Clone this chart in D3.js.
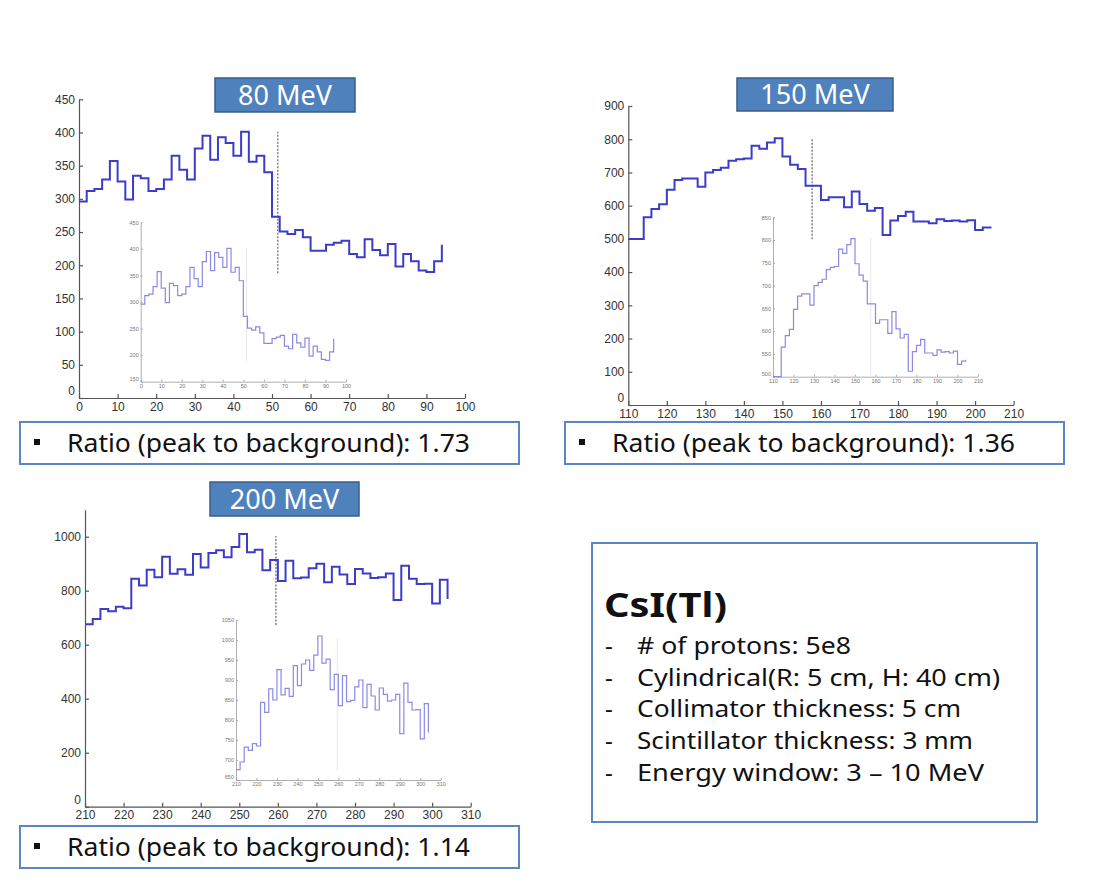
<!DOCTYPE html>
<html><head><meta charset="utf-8">
<script src="https://cdn.jsdelivr.net/npm/d3@7"></script>
<style>body{margin:0;background:#fff}svg{display:block}</style>
</head><body>
<svg id="c" width="1102" height="884"></svg>
<script>
// ---------- DATA ----------
const binWidth = 2;
const binStart80 = 0, binStart150 = 110, binStart200 = 210;
const counts80 = [296,312,315,329,357,326,299,335,331,312,315,329,365,344,329,376,395,359,393,384,365,401,356,365,340,273,251,247,253,242,222,222,231,234,237,217,212,239,223,215,232,198,217,206,192,190,206,231];
const counts150 = [500,500,565,590,604,648,677,682,682,657,700,707,714,735,740,742,780,771,790,803,748,723,710,660,660,617,625,625,595,643,605,585,593,512,555,569,582,552,552,547,559,554,555,552,556,527,534,537];
const counts200 = [676,695,732,724,741,735,844,819,878,850,926,863,879,859,936,886,940,950,924,962,1010,942,952,876,914,836,911,846,849,883,900,831,889,860,825,880,864,847,850,864,766,892,844,825,826,753,841,769];
// peak-window marker: [energy, lower count, upper count]
const marker80 = [51.5, 188, 401];
const marker150 = [157.7, 499, 804];
const marker200 = [259.5, 673, 1003];
const xTicks80 = [0,10,20,30,40,50,60,70,80,90,100];
const yTicks80 = [0,50,100,150,200,250,300,350,400,450];
const xTicks150 = [110,120,130,140,150,160,170,180,190,200,210];
const yTicks150 = [0,100,200,300,400,500,600,700,800,900];
const xTicks200 = [210,220,230,240,250,260,270,280,290,300,310];
const yTicks200 = [0,200,400,600,800,1000];
const insetYTicks80 = [150,200,250,300,350,400,450];
const insetYTicks150 = [500,550,600,650,700,750,800,850];
const insetYTicks200 = [650,700,750,800,850,900,950,1000,1050];
const titles = ["80 MeV","150 MeV","200 MeV"];
const ratioLabel = "Ratio (peak to background): ";
const ratios = ["1.73","1.36","1.14"];
const infoTitle = "CsI(Tl)";
const infoLines = ["# of protons: 5e8","Cylindrical(R: 5 cm, H: 40 cm)","Collimator thickness: 5 cm","Scintillator thickness: 3 mm","Energy window: 3 \u2013 10 MeV"];

// ---------- LAYOUT ----------
const svg = d3.select("#c");
const FONT = "'Noto Sans', 'Open Sans', sans-serif";
const TICKFONT = "'Liberation Sans', Arial, sans-serif";
const infoWidths = [214, 363, 324, 336, 347];

const panels = [
  { counts: counts80, start: binStart80, marker: marker80, xTicks: xTicks80, yTicks: yTicks80, iyTicks: insetYTicks80,
    main: {x:[79,465], y:[398,99.3], xd:[0,100], yd:[0,450]},
    inset: {x:[140.7,346], y:[381.7,222.3], xd:[0,100], yd:[150,450]},
    title: {x:215, y:78, w:140, h:34, text: titles[0]},
    ratio: {x:20, y:422, w:499, h:42, text: ratios[0]} },
  { counts: counts150, start: binStart150, marker: marker150, xTicks: xTicks150, yTicks: yTicks150, iyTicks: insetYTicks150,
    main: {x:[628.3,1013.6], y:[405,106], xd:[110,210], yd:[0,900]},
    inset: {x:[773,978], y:[376.7,217.3], xd:[110,210], yd:[500,850]},
    title: {x:737, y:78, w:156, h:33, text: titles[1]},
    ratio: {x:565, y:422, w:499, h:42, text: ratios[1]} },
  { counts: counts200, start: binStart200, marker: marker200, xTicks: xTicks200, yTicks: yTicks200, iyTicks: insetYTicks200,
    main: {x:[85,470.7], y:[806.7,509.7], xd:[210,310], yd:[0,1100]},
    inset: {x:[236,440.7], y:[780,620], xd:[210,310], yd:[650,1050]},
    title: {x:210, y:482, w:149, h:34, text: titles[2]},
    ratio: {x:20, y:826, w:499, h:42, text: ratios[2]} }
];

function drawAxes(g, sx, sy, xt, yt, opt) {
  const xa = d3.axisBottom(sx).tickValues(xt).tickSizeInner(-opt.tick).tickSizeOuter(0).tickPadding(opt.pad).tickFormat(d3.format("d"));
  const ya = d3.axisLeft(sy).tickValues(yt).tickSizeInner(-opt.tick).tickSizeOuter(0).tickPadding(opt.pad).tickFormat(d3.format("d"));
  const gx = g.append("g").attr("transform", `translate(0,${sy.range()[0]})`).call(xa);
  const gy = g.append("g").attr("transform", `translate(${sx.range()[0]},0)`).call(ya);
  [gx, gy].forEach(a => {
    a.select(".domain").attr("stroke", opt.color).attr("stroke-width", opt.sw);
    a.selectAll(".tick line").attr("stroke", opt.color).attr("stroke-width", opt.sw);
    a.selectAll(".tick text").attr("fill", opt.text).attr("font-size", opt.fs).attr("font-family", TICKFONT);
  });
  // lift the lowest y label so it does not collide with the first x label
  gy.selectAll(".tick text").filter((d, i) => i === 0).attr("dy", opt.lift);
}

panels.forEach(p => {
  const pts = p.counts.map((v, i) => [p.start + i * binWidth, v]);
  const g = svg.append("g");

  // inset first (behind main)
  const isx = d3.scaleLinear().domain(p.inset.xd).range(p.inset.x);
  const isy = d3.scaleLinear().domain(p.inset.yd).range(p.inset.y);
  drawAxes(g, isx, isy, p.xTicks, p.iyTicks, {tick:2, pad:2, color:"#999", sw:0.8, text:"#777", fs:5.5, lift:"-0.3em"});
  g.append("line").attr("x1", isx(p.marker[0])).attr("x2", isx(p.marker[0]))
    .attr("y1", isy(p.marker[1])).attr("y2", isy(p.marker[2]))
    .attr("stroke", "#e8e8e8").attr("stroke-width", 1);
  g.append("path").datum(pts)
    .attr("d", d3.line().x(d => isx(d[0])).y(d => isy(d[1])).curve(d3.curveStepAfter))
    .attr("fill", "none").attr("stroke", "#8a8ae6").attr("stroke-width", 1.2);

  // main
  const sx = d3.scaleLinear().domain(p.main.xd).range(p.main.x);
  const sy = d3.scaleLinear().domain(p.main.yd).range(p.main.y);
  drawAxes(g, sx, sy, p.xTicks, p.yTicks, {tick:4, pad:4, color:"#555", sw:1.2, text:"#333", fs:12, lift:"-0.3em"});
  g.append("line").attr("x1", sx(p.marker[0])).attr("x2", sx(p.marker[0]))
    .attr("y1", sy(p.marker[1])).attr("y2", sy(p.marker[2]))
    .attr("stroke", "#666").attr("stroke-width", 1.2).attr("stroke-dasharray", "2,1.5");
  g.append("path").datum(pts)
    .attr("d", d3.line().x(d => sx(d[0])).y(d => sy(d[1])).curve(d3.curveStepAfter))
    .attr("fill", "none").attr("stroke", "#3c3cc8").attr("stroke-width", 2);

  // title box
  const t = p.title;
  g.append("rect").attr("x", t.x).attr("y", t.y).attr("width", t.w).attr("height", t.h)
    .attr("fill", "#4f81bd").attr("stroke", "#385d8a").attr("stroke-width", 1.5);
  g.append("text").attr("x", t.x + t.w / 2).attr("y", t.y + t.h - 7).attr("text-anchor", "middle")
    .attr("fill", "#fff").attr("font-size", 27).attr("font-family", FONT).text(t.text);

  // ratio box
  const r = p.ratio;
  g.append("rect").attr("x", r.x).attr("y", r.y).attr("width", r.w).attr("height", r.h)
    .attr("fill", "#fff").attr("stroke", "#5b86c5").attr("stroke-width", 2);
  g.append("rect").attr("x", r.x + 14).attr("y", r.y + 17).attr("width", 6).attr("height", 6).attr("fill", "#111");
  g.append("text").attr("x", r.x + 47).attr("y", r.y + 30).attr("fill", "#111")
    .attr("font-size", 25).attr("font-family", FONT)
    .attr("textLength", 403).attr("lengthAdjust", "spacingAndGlyphs")
    .text(ratioLabel + r.text);
});

// info box
const ib = svg.append("g");
ib.append("rect").attr("x", 592).attr("y", 543).attr("width", 445).attr("height", 279)
  .attr("fill", "#fff").attr("stroke", "#5b86c5").attr("stroke-width", 2);
ib.append("text").attr("x", 604).attr("y", 617).attr("font-size", 34).attr("font-weight", "bold")
  .attr("font-family", FONT).attr("fill", "#111")
  .attr("textLength", 123).attr("lengthAdjust", "spacingAndGlyphs").text(infoTitle);
infoLines.forEach((s, i) => {
  const y = 654 + i * 31.7;
  ib.append("text").attr("x", 605).attr("y", y).attr("font-size", 24).attr("font-family", FONT).attr("fill", "#111").text("-");
  ib.append("text").attr("x", 637).attr("y", y).attr("font-size", 24).attr("font-family", FONT).attr("fill", "#111")
    .attr("textLength", infoWidths[i]).attr("lengthAdjust", "spacingAndGlyphs").text(s);
});
</script>
</body></html>
